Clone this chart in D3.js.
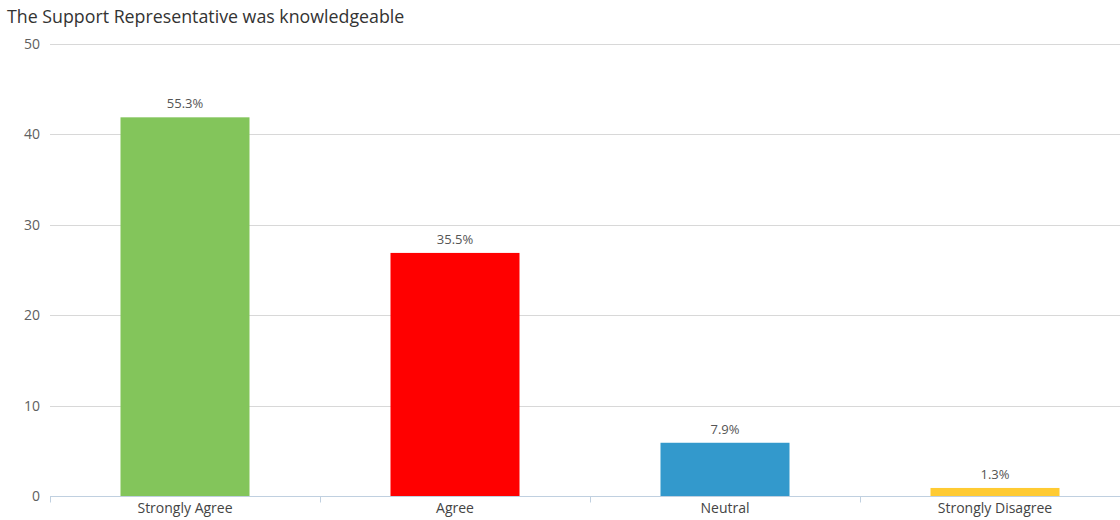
<!DOCTYPE html>
<html>
<head>
<meta charset="utf-8">
<script src="https://cdn.jsdelivr.net/npm/d3@7"></script>
<style>
  body { margin: 0; background: #fff; font-family: "Open Sans", sans-serif; }
  #my_dataviz { width: 1120px; height: 520px; overflow: hidden; }
</style>
</head>
<body>
<div id="my_dataviz"></div>
<script>
// Data
const categories = ["Strongly Agree", "Agree", "Neutral", "Strongly Disagree"];
const counts = [42, 27, 6, 1];
const percentLabels = ["55.3%", "35.5%", "7.9%", "1.3%"];
const barColors = ["#83c55b", "#ff0000", "#3399cc", "#ffcb33"];
const yTicks = [0, 10, 20, 30, 40, 50];

const svg = d3.select("#my_dataviz")
  .append("svg")
    .attr("width", 1120)
    .attr("height", 520);

// Title
svg.append("text")
    .attr("x", 7)
    .attr("y", 23)
    .style("font-size", "17.8px")
    .style("fill", "#333")
    .text("The Support Representative was knowledgeable");

// Scales (plot runs past the right edge, like the original)
const x = d3.scaleBand()
    .domain(categories)
    .range([50, 1130])
    .padding(0);

const y = d3.scaleLinear()
    .domain([0, 50])
    .range([496, 44]);

// Gridlines
svg.append("g")
  .selectAll("line")
  .data(yTicks.filter(d => d > 0))
  .join("line")
    .attr("x1", 50)
    .attr("x2", 1120)
    .attr("y1", d => Math.round(y(d)) + 0.5)
    .attr("y2", d => Math.round(y(d)) + 0.5)
    .attr("stroke", "#d8d8d8")
    .attr("stroke-width", 1);

// Y axis labels
svg.append("g")
  .selectAll("text")
  .data(yTicks)
  .join("text")
    .attr("x", 40)
    .attr("y", d => y(d) + 5)
    .attr("text-anchor", "end")
    .style("font-size", "14px")
    .style("fill", "#606060")
    .text(d => d);

// Bars
const barW = 129;
svg.append("g")
  .selectAll("rect")
  .data(categories)
  .join("rect")
    .attr("x", d => x(d) + (x.bandwidth() - barW) / 2)
    .attr("y", (d, i) => y(counts[i]) + 1)
    .attr("width", barW)
    .attr("height", (d, i) => y(0) - y(counts[i]) - 1)
    .attr("fill", (d, i) => barColors[i]);

// Value labels
svg.append("g")
  .selectAll("text")
  .data(categories)
  .join("text")
    .attr("x", d => x(d) + x.bandwidth() / 2)
    .attr("y", (d, i) => y(counts[i]) - 8)
    .attr("text-anchor", "middle")
    .style("font-size", "13px")
    .style("fill", "#555")
    .text((d, i) => percentLabels[i]);

// X axis
const xAxis = svg.append("g")
    .attr("transform", "translate(0,496.5)");
xAxis.append("line")
    .attr("x1", 50)
    .attr("x2", 1130)
    .attr("stroke", "#c0d0e0");
xAxis.selectAll(".tick")
  .data(categories.map(d => x(d)).concat([x.range()[1]]))
  .join("line")
    .attr("class", "tick")
    .attr("x1", d => Math.round(d) + 0.5)
    .attr("x2", d => Math.round(d) + 0.5)
    .attr("y1", 0)
    .attr("y2", 6)
    .attr("stroke", "#c0d0e0");
xAxis.selectAll(".cat")
  .data(categories)
  .join("text")
    .attr("class", "cat")
    .attr("x", d => x(d) + x.bandwidth() / 2)
    .attr("y", 16)
    .attr("text-anchor", "middle")
    .style("font-size", "14px")
    .style("fill", "#444")
    .text(d => d);
</script>
</body>
</html>
